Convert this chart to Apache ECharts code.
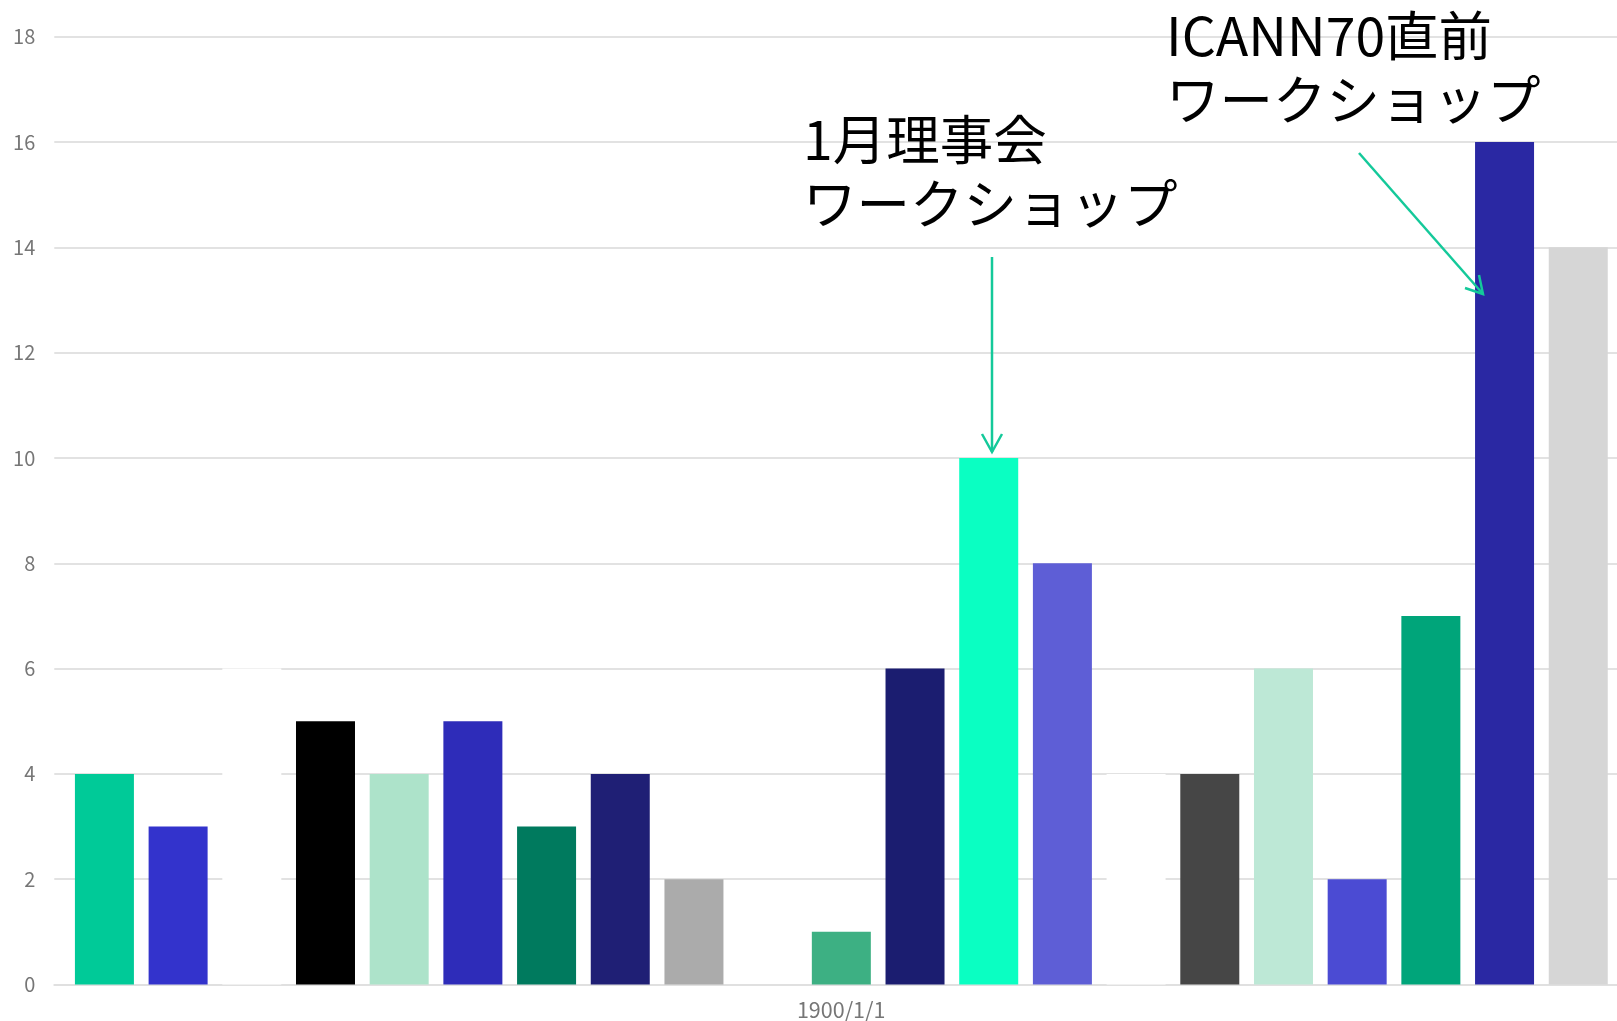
<!DOCTYPE html>
<html><head><meta charset="utf-8">
<script src="https://cdn.jsdelivr.net/npm/echarts@6/dist/echarts.min.js"></script>
<style>html,body{margin:0;padding:0;background:#fff}#c{width:1617px;height:1021px}</style>
</head><body><div id="c"></div>
<script>
const categories = ['1900/1/1'];
const seriesNames = ['S1','S2','S3','S4','S5','S6','S7','S8','S9','S10','S11','S12','S13','S14','S15','S16','S17','S18','S19','S20','S21'];
const seriesValues = [4,3,6,5,4,5,3,4,2,0,1,6,10,8,4,4,6,2,7,16,14];
const seriesColors = ['#00CA98','#3333CC','#FFFFFF','#000000','#ADE3CA','#2E2CB9','#007A5E','#1F1F75','#ABABAB','#FFFFFF','#3DB083','#1B1D70','#0AFFC2','#5E5ED6','#FFFFFF','#464646','#BDE8D6','#4B4BD3','#00A57A','#2A28A3','#D6D6D6'];
const yTicks = {min:0, max:18, interval:2};
const annotations = [
  {text:'1月理事会\nワークショップ', series:12},
  {text:'ICANN70直前\nワークショップ', series:19}
];

const chart = echarts.init(document.getElementById('c'));
const font = '"Noto Sans CJK JP", "Noto Sans", sans-serif';
// invisible leading spacer: the original group sits slightly right of the plot centre
const series = [{name:'', type:'bar', data:[null], barWidth:9.1, barGap:'24.9%', silent:true}].concat(
  seriesValues.map((v,i)=>({
    name: seriesNames[i], type:'bar', data:[v],
    barWidth:59, barGap:'24.9%',
    itemStyle:{color:seriesColors[i]},
    emphasis:{disabled:true}, silent:true
  })));
const ac = '#14C99A';
chart.setOption({
  animation:false,
  backgroundColor:'#fff',
  grid:{left:54.3, right:0, top:36.7, bottom:35.3, containLabel:false},
  xAxis:{type:'category', data:categories,
    axisLine:{show:true, lineStyle:{color:'#e0e0e0', width:2}},
    axisTick:{show:false},
    axisLabel:{color:'#767676', fontSize:21.5, fontFamily:font, margin:15, padding:[0,0,0,11]}},
  yAxis:{type:'value', min:yTicks.min, max:yTicks.max, interval:yTicks.interval,
    axisLine:{show:false}, axisTick:{show:false},
    axisLabel:{color:'#767676', fontSize:20, fontFamily:font, margin:19},
    splitLine:{lineStyle:{color:'#e2e2e2', width:2}}},
  series: series,
  graphic:[
    {type:'text', z:100, left:803, top:108, style:{text:annotations[0].text, font:'53.5px '+font, lineHeight:64, fill:'#000'}},
    {type:'text', z:100, left:1166, top:4, style:{text:annotations[1].text, font:'53.5px '+font, lineHeight:64, fill:'#000'}},
    {type:'polyline', z:100, shape:{points:[[992,257],[992,452]]}, style:{stroke:ac, lineWidth:2.5, fill:null}},
    {type:'polyline', z:100, shape:{points:[[982,434],[992,452],[1002,434]]}, style:{stroke:ac, lineWidth:2.5, fill:null}},
    {type:'polyline', z:100, shape:{points:[[1359,153],[1483,294]]}, style:{stroke:ac, lineWidth:2.5, fill:null}},
    {type:'polyline', z:100, shape:{points:[[1465,288],[1483,294],[1479,275]]}, style:{stroke:ac, lineWidth:2.5, fill:null}}
  ]
});
</script></body></html>
